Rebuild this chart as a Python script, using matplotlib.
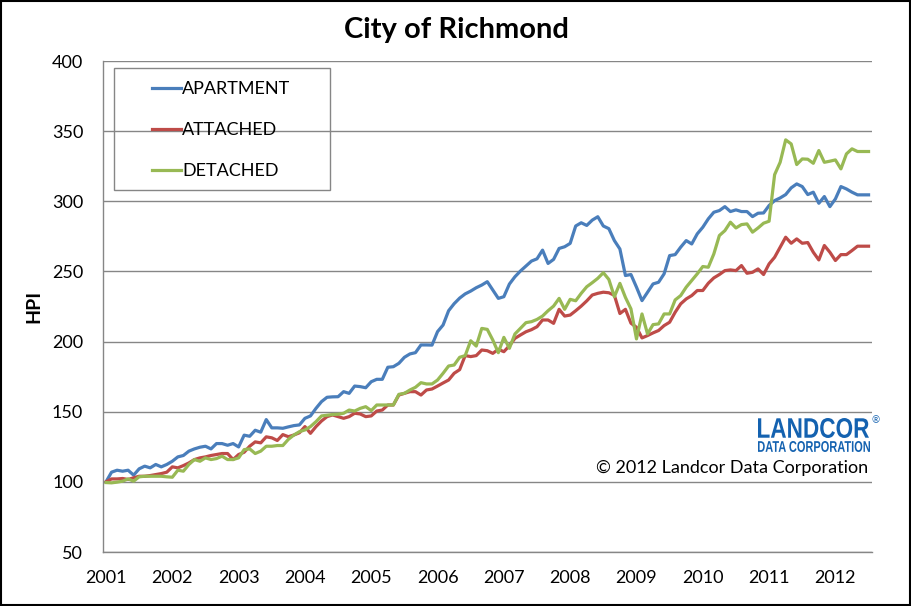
import matplotlib
matplotlib.use("Agg")
import matplotlib.pyplot as plt
import matplotlib.transforms as mtransforms
from matplotlib.textpath import TextPath
from matplotlib.patches import PathPatch, Rectangle
from matplotlib.font_manager import FontProperties
import numpy as np

# monthly HPI values, Jan 2001 .. Jul 2012
apartment = [
    100, 106.9, 108.3, 107.6, 108.3, 104.8, 109.3, 111.2, 110, 112.4, 110.7, 112.4,
    114.7, 117.8, 118.8, 121.9, 123.5, 124.7, 125.4, 123.5, 127.3, 127.3, 126.1, 127.3,
    124.9, 133.3, 132.5, 136.8, 135.4, 144.4, 138.5, 138.5, 138.2, 139.2, 140.1, 140.6,
    145.3, 147, 152.4, 157.2, 160.3, 160.6, 160.7, 164.3, 163.1, 168.3, 167.9, 167.1,
    171.4, 173.1, 173.1, 181.7, 182.1, 184.5, 188.8, 191.2, 192.1, 197.6, 197.6, 197.5,
    207.1, 211.8, 222, 227, 231, 234, 236, 238.4, 240.3, 242.7, 236.7, 230.8,
    232, 241, 246.2, 250.3, 253.8, 257.4, 259, 265.2, 255.7, 258.6, 266.4, 267.6,
    270, 282.4, 284.7, 282.8, 286.6, 289, 282.4, 280.5, 272, 266, 247.1, 247.8,
    238.8, 229.2, 235.2, 241.1, 242.3, 248.3, 261.3, 262, 267.3, 272, 269.6, 276.8,
    281.5, 287.5, 292.2, 293.4, 296.2, 292.7, 293.9, 292.7, 292.7, 289.1, 291.5, 291.7,
    297, 300.5, 302.4, 304.8, 309.6, 312.4, 310.5, 304.8, 306.5, 298.6, 303.4, 296.2,
    301.7, 310.5, 308.8, 306.5, 304.6, 304.6, 304.6,
]
attached = [
    100, 102.1, 102.1, 102.4, 101.7, 102.9, 104, 104, 104.5, 105.2, 105.9, 106.9,
    110.7, 110, 111.6, 113.5, 115.9, 117.1, 117.8, 118.8, 119.5, 120.2, 120.2, 115.9,
    119.5, 121.1, 125.4, 128.5, 127.8, 132.1, 131.4, 129.5, 133.7, 132.2, 133.4, 135,
    139.4, 134.6, 139.4, 143.4, 146.5, 147.7, 146.5, 145.3, 146.5, 148.9, 148.4, 146.5,
    147, 150.5, 151.2, 154.8, 154.8, 161.9, 163.1, 164.3, 164.3, 161.9, 165.5, 166.2,
    168.3, 170.5, 172.6, 177.4, 180, 190, 189.3, 190, 194, 193.5, 191.6, 194.5,
    192.8, 197, 202.3, 204.7, 207, 208.5, 210.6, 215.4, 215.4, 213, 223, 218.2,
    218.9, 222, 225.3, 229, 233.2, 234.4, 235.2, 234.8, 233, 220, 223, 213.1,
    210.2, 202.6, 204.3, 206.2, 207.9, 211.4, 213.8, 220.9, 226.9, 230.4, 232.8, 236.4,
    236.4, 241.6, 245.4, 247.8, 250.6, 251.1, 250.6, 254.2, 248.7, 249.4, 251.8, 247.8,
    255.4, 260.1, 267.3, 274.4, 270.1, 273.2, 270.1, 270.6, 263.7, 258.2, 268.5, 263.7,
    257.8, 262, 262, 264.9, 268, 268, 268,
]
detached = [
    99.5, 99.3, 99.8, 100.5, 102.1, 100.5, 103.6, 104, 104, 104, 104, 103.6,
    103.3, 108.3, 107.6, 112.4, 115.9, 114.7, 117.1, 115.9, 116.6, 118.3, 115.9, 115.9,
    117.1, 123, 123.5, 120.2, 121.9, 125.4, 125.4, 125.9, 125.9, 130.3, 133.4, 135.8,
    137, 139.4, 142.9, 147, 147.5, 148, 148.2, 148.9, 151.2, 150.5, 152.4, 153.6,
    150.8, 154.8, 154.8, 154.8, 154.8, 162.4, 163.1, 165.5, 167.4, 170.7, 169.8, 169.8,
    172.6, 177.4, 182.6, 183.3, 188.8, 190, 200.6, 196.8, 209.4, 208.7, 201.1, 192.1,
    203, 195.2, 205.4, 209.4, 213.5, 214.2, 215.8, 218.2, 222, 225.3, 230.8, 223,
    230.1, 229.1, 234.4, 239.1, 242, 245.1, 249.1, 244.3, 232, 241.5, 231.5, 223.3,
    201.9, 219.7, 205.5, 212.1, 212.6, 219.7, 219.7, 229.7, 232.8, 238.8, 243.5, 248.3,
    253.5, 253, 262.5, 275.6, 279.1, 285.1, 281, 283.4, 283.9, 278, 281, 284.4,
    285.8, 319, 327.8, 343.8, 340.9, 326.2, 330.2, 330, 327.1, 336.2, 327.8, 328.6,
    329.5, 323.1, 333.8, 337.4, 335.5, 335.5, 335.5,
]
years = list(range(2001, 2013))

months = 2001 + np.arange(len(apartment)) / 12.0

plt.rcParams['font.family'] = ['Lato', 'DejaVu Sans']

W, H = 912, 606
fig = plt.figure(figsize=(W / 100, H / 100), dpi=100)
ax = fig.add_axes([0.1126, 0.0891, 0.8434, 0.8102])

ax.plot(months, apartment, color='#4A7EBB', lw=2.3, label='APARTMENT', solid_joinstyle='round')
ax.plot(months, attached, color='#BE4B48', lw=2.3, label='ATTACHED', solid_joinstyle='round')
ax.plot(months, detached, color='#98B954', lw=2.3, label='DETACHED', solid_joinstyle='round')

ax.set_xlim(2000.95, 2012.55)
ax.set_ylim(50, 400)
ax.set_yticks(range(50, 401, 50))
ax.set_xticks(years)
ax.set_xticklabels([str(y) for y in years])
ax.tick_params(axis='both', length=0, labelsize=13)
ax.tick_params(axis='y', pad=14)
ax.tick_params(axis='x', pad=13)
ax.grid(axis='y', color='#868686', lw=1)
ax.set_axisbelow(True)
for s in ['top', 'right']:
    ax.spines[s].set_visible(False)
for s in ['left', 'bottom']:
    ax.spines[s].set_color('#868686')
    ax.spines[s].set_linewidth(1)

ax.set_ylabel('HPI', fontsize=14, fontweight='bold', labelpad=7)

# legend: frameless, box drawn separately (lots of padding in the original)
leg = ax.legend(loc='upper left', bbox_to_anchor=(152 / W, 1 - 81 / H),
                bbox_transform=fig.transFigure, fontsize=13, frameon=False,
                handlelength=1.6, handletextpad=0.08, labelspacing=1.39,
                borderpad=0, borderaxespad=0)
fig.patches.append(Rectangle((114 / W, 1 - 190 / H), 216 / W, 122 / H,
                             transform=fig.transFigure, fill=False,
                             edgecolor='#868686', lw=1, zorder=5))

fig.text(0.5, 1 - 30 / H, 'City of Richmond', ha='center', va='center',
         fontsize=21, fontweight='bold')


def squeezed_text(s, x0, x1, ybot, height, color):
    # text stretched into a box (pixel coords from top-left)
    fp = FontProperties(family='Liberation Sans', weight='bold')
    tp = TextPath((0, 0), s, size=1, prop=fp)
    bb = tp.get_extents()
    tr = (mtransforms.Affine2D().translate(-bb.x0, -bb.y0)
          .scale((x1 - x0) / bb.width, height / bb.height)
          .translate(x0, H - ybot))
    patch = PathPatch(tr.transform_path(tp), facecolor=color, lw=0,
                      transform=mtransforms.IdentityTransform())
    fig.add_artist(patch)


logo_blue = '#1462B0'
squeezed_text('LANDCOR', 758, 869, 438, 20, logo_blue)
squeezed_text('DATA CORPORATION', 758, 870, 452, 11, logo_blue)
fig.text(872 / W, 1 - 421 / H, '\u00ae', ha='left', va='center', fontsize=7, color=logo_blue)
fig.text(868 / W, 1 - 468 / H, '\u00a9 2012 Landcor Data Corporation',
         ha='right', va='center', fontsize=13)

# outer border
fig.patches.append(Rectangle((0.001, 0.002), 0.997, 0.996, transform=fig.transFigure,
                             fill=False, edgecolor='black', lw=1.5))

fig.savefig('out.png', dpi=100)
